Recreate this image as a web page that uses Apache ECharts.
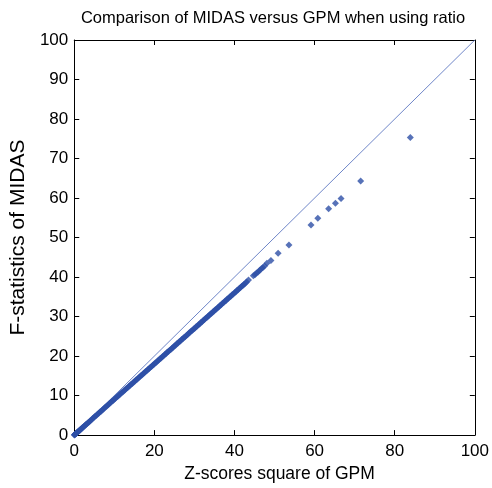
<!DOCTYPE html>
<html>
<head>
<meta charset="utf-8">
<script src="https://cdn.jsdelivr.net/npm/echarts@6/dist/echarts.min.js"></script>
<style>html,body{margin:0;padding:0;background:#fff}#c{width:492px;height:488px}</style>
</head>
<body>
<div id="c"></div>
<script>
const titleText = "Comparison of MIDAS versus GPM when using ratio";
const xName = "Z-scores square of GPM";
const yName = "F-statistics of MIDAS";
const xTicks = [0, 20, 40, 60, 80, 100];
const yTicks = [0, 10, 20, 30, 40, 50, 60, 70, 80, 90, 100];
const diagonal = [[0, 0], [100, 100]];
const gpmZ2 = [0.02,0.08,0.15,0.25,0.35,0.45,0.55,0.7,0.85,1.0,1.15,1.3,1.45,1.6,1.8,2.0,2.2,2.4,2.6,2.8,3.0,3.25,3.5,3.75,4.0,4.3,4.6,4.9,5.2,5.5,5.8,6.1,6.4,6.7,7.0,7.3,7.6,7.9,8.2,8.5,8.8,9.1,9.4,9.7,10.0,10.3,10.6,10.9,11.2,11.5,11.8,12.1,12.4,12.7,13.0,13.3,13.6,13.9,14.2,14.5,14.8,15.1,15.4,15.7,16.0,16.3,16.6,16.9,17.2,17.5,17.8,18.1,18.4,18.7,19.0,19.3,19.6,19.9,20.2,20.5,20.8,21.1,21.4,21.7,22.0,22.3,22.6,22.9,23.2,23.5,23.8,24.1,24.4,24.7,25.0,25.3,25.6,25.9,26.2,26.5,26.8,27.1,27.4,27.7,28.0,28.3,28.6,28.9,29.2,29.5,29.8,30.1,30.4,30.7,31.0,31.3,31.6,31.9,32.2,32.5,32.8,33.1,33.4,33.7,34.0,34.3,34.6,34.9,35.2,35.5,35.8,36.1,36.4,36.7,37.0,37.3,37.6,37.9,38.2,38.5,38.8,39.1,39.4,39.7,40.0,40.3,40.6,40.9,41.2,41.5,41.8,42.1,42.4,42.7,43.0,43.5,44.7,45.1,45.5,45.9,46.3,46.7,47.1,47.5,48.1,49.1,50.9,53.6,59.1,60.8,63.5,65.2,66.6,71.5,83.9];
const midasF = [0.02,0.07,0.14,0.22,0.33,0.40,0.51,0.64,0.77,0.92,1.03,1.19,1.31,1.46,1.63,1.83,1.98,2.20,2.36,2.55,2.72,2.95,3.20,3.39,3.66,3.90,4.20,4.43,4.75,4.98,5.30,5.52,5.84,6.06,6.38,6.60,6.92,7.15,7.45,7.69,8.01,8.22,8.55,8.76,9.08,9.31,9.62,9.83,10.16,10.38,10.70,10.91,11.24,11.46,11.78,11.99,12.32,12.53,12.86,13.07,13.40,13.61,13.94,14.15,14.47,14.69,15.01,15.22,15.55,15.76,16.09,16.30,16.62,16.84,17.16,17.37,17.70,17.91,18.24,18.45,18.78,18.99,19.32,19.53,19.85,20.07,20.40,20.61,20.94,21.15,21.47,21.69,22.01,22.22,22.55,22.76,23.09,23.30,23.63,23.84,24.17,24.38,24.71,24.92,25.24,25.46,25.78,26.00,26.32,26.54,26.86,27.07,27.40,27.61,27.94,28.15,28.48,28.69,29.02,29.23,29.56,29.77,30.10,30.31,30.64,30.85,31.18,31.39,31.72,31.93,32.26,32.47,32.80,33.01,33.34,33.55,33.88,34.09,34.42,34.63,34.96,35.17,35.50,35.71,36.04,36.25,36.58,36.79,37.12,37.33,37.66,37.87,38.20,38.41,38.74,39.25,40.3,40.6,41.0,41.3,41.7,42.1,42.4,42.8,43.5,44.2,46.0,48.1,53.2,54.9,57.3,58.7,59.9,64.3,75.3];

const pts = gpmZ2.map((x, i) => [x, midasF[i]]);
const FONT = "Liberation Sans, Arial, Helvetica, sans-serif";
const axisCommon = {
  min: 0, max: 100,
  axisLine: { show: true, onZero: false, lineStyle: { color: '#000', width: 1 } },
  axisTick: { show: true, inside: true, length: 5, lineStyle: { color: '#000' } },
  splitLine: { show: false }
};
const chart = echarts.init(document.getElementById('c'), null, { renderer: 'canvas' });
chart.setOption({
  animation: false,
  backgroundColor: '#fff',
  graphic: [{
    type: 'text', x: 273, y: 18,
    style: { text: titleText, fill: '#000', font: '16.5px ' + FONT, textAlign: 'center', textVerticalAlign: 'middle' }
  }],
  grid: { left: 73, top: 40, width: 402, height: 401, containLabel: false },
  xAxis: [
    Object.assign({}, axisCommon, {
      type: 'value', position: 'bottom', interval: 20,
      name: xName, nameLocation: 'middle', nameGap: 28,
      nameTextStyle: { color: '#000', fontSize: 17.5, fontFamily: FONT, padding: [0, 0, 0, 10] },
      axisLabel: { color: '#000', fontSize: 17, fontFamily: FONT, margin: 8,
        formatter: v => xTicks.includes(v) ? String(v) : '' }
    }),
    Object.assign({}, axisCommon, {
      type: 'value', position: 'top', interval: 20, axisLabel: { show: false }
    })
  ],
  yAxis: [
    Object.assign({}, axisCommon, {
      type: 'value', position: 'left', interval: 10,
      name: yName, nameLocation: 'middle', nameGap: 37,
      nameTextStyle: { color: '#000', fontSize: 21, fontFamily: FONT },
      axisLabel: { color: '#000', fontSize: 17, fontFamily: FONT, margin: 6,
        formatter: v => yTicks.includes(v) ? String(v) : '' }
    }),
    Object.assign({}, axisCommon, {
      type: 'value', position: 'right', interval: 10, axisLabel: { show: false }
    })
  ],
  series: [
    {
      type: 'line', data: diagonal, xAxisIndex: 0, yAxisIndex: 0,
      symbol: 'none', lineStyle: { color: '#6f86c8', width: 1 }, z: 2
    },
    {
      type: 'scatter', data: pts, xAxisIndex: 0, yAxisIndex: 0,
      symbol: 'diamond', symbolSize: 7,
      itemStyle: { color: '#2d4fa6' }, z: 3
    }
  ]
});
</script>
</body>
</html>
